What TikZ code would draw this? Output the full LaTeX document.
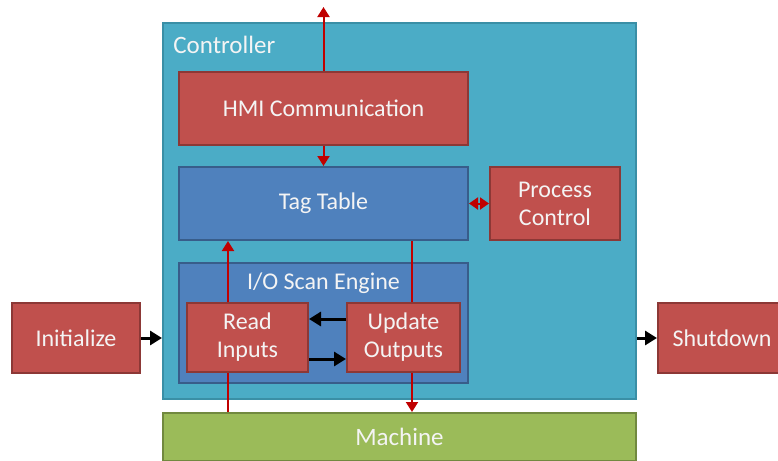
\documentclass[tikz,border=0pt]{standalone}
\usepackage{fontspec}
\setmainfont{Carlito}
\usetikzlibrary{arrows.meta}
\definecolor{ctrlfill}{HTML}{4BACC6}
\definecolor{ctrldraw}{HTML}{3A8FA6}
\definecolor{bluefill}{HTML}{4F81BD}
\definecolor{bluedraw}{HTML}{385D8A}
\definecolor{redfill}{HTML}{C0504D}
\definecolor{reddraw}{HTML}{8C3836}
\definecolor{greenfill}{HTML}{9BBB59}
\definecolor{greendraw}{HTML}{71893F}
\definecolor{arrred}{HTML}{C00000}
\definecolor{txt}{HTML}{F4F4F4}
\tikzset{
  box/.style={rectangle, inner sep=0pt, line width=1pt, text=txt, align=center,
    font=\fontsize{12}{14}\selectfont},
  ctrlbox/.style={box, fill=ctrlfill, draw=ctrldraw},
  bluebox/.style={box, fill=bluefill, draw=bluedraw},
  redbox/.style={box, fill=redfill, draw=reddraw},
  greenbox/.style={box, fill=greenfill, draw=greendraw},
  lbl/.style={inner sep=0pt, text=txt, font=\fontsize{12}{14}\selectfont},
  redline/.style={draw=arrred, line width=1pt},
  redarr/.style={redline, -{Triangle[width=6pt,length=5pt]}},
  redboth/.style={redline, {Triangle[width=6pt,length=4.5pt]}-{Triangle[width=6pt,length=4.5pt]}},
  blkarr/.style={draw=black, line width=1.5pt, -{Triangle[width=7pt,length=6pt]}},
}
\begin{document}
\begin{tikzpicture}[x=0.5pt,y=-0.5pt]
\useasboundingbox (0,0) rectangle (778,461);
\clip (0,0) rectangle (778,461);
\fill[white] (0,0) rectangle (778,461);
% containers
\node[ctrlbox, minimum width=236.5pt, minimum height=188pt] (ctrl) at (399.5,211) {};
\node[lbl, anchor=west, font=\fontsize{12.5}{14}\selectfont] (ctrllbl) at (173,45) {Controller};
\node[greenbox, minimum width=236.5pt, minimum height=24pt, font=\fontsize{12.5}{14}\selectfont] (mach) at (399.5,437) {Machine};
% inner boxes
\node[redbox, minimum width=144.5pt, minimum height=36.5pt] (hmi) at (323.5,108.5) {HMI Communication};
\node[bluebox, minimum width=144.5pt, minimum height=36.5pt] (tag) at (323.5,203.5) {Tag Table};
\node[redbox, minimum width=65pt, minimum height=36.5pt] (proc) at (555,203.5) {Process\\Control};
\node[bluebox, minimum width=144.5pt, minimum height=60pt] (io) at (323.5,323) {};
\node[lbl] (iolbl) at (323.5,283) {I/O Scan Engine};
\node[redbox, minimum width=60.5pt, minimum height=34.5pt] (read) at (247.5,337.5) {Read\\Inputs};
\node[redbox, minimum width=56.5pt, minimum height=34.5pt] (upd) at (403.5,337.5) {Update\\Outputs};
\node[redbox, minimum width=64pt, minimum height=35pt] (init) at (76,338) {Initialize};
\node[redbox, minimum width=64pt, minimum height=35pt] (shut) at (722,338) {Shutdown};
% helper coordinates
\coordinate (top) at (323.5,7);
\coordinate (lx) at (228,0);
\coordinate (rx) at (412,0);
\coordinate (ya) at (0,319);
\coordinate (yb) at (0,359);
% red connectors
\draw[redarr] (hmi.north) -- (top);
\draw[redarr] (hmi.south) -- (tag.north);
\draw[redboth] (tag.east) -- (proc.west);
\draw[redline] (mach.north -| lx) -- (read.south -| lx);
\draw[redarr] (read.north -| lx) -- (tag.south -| lx);
\draw[redline] (tag.south -| rx) -- (upd.north -| rx);
\draw[redarr] (upd.south -| rx) -- (mach.north -| rx);
% black connectors
\draw[blkarr] (upd.west |- ya) -- (read.east |- ya);
\draw[blkarr] (read.east |- yb) -- (upd.west |- yb);
\draw[blkarr] (init.east) -- (ctrl.west |- init.east);
\draw[blkarr] (ctrl.east |- shut.west) -- (shut.west);
\end{tikzpicture}
\end{document}
